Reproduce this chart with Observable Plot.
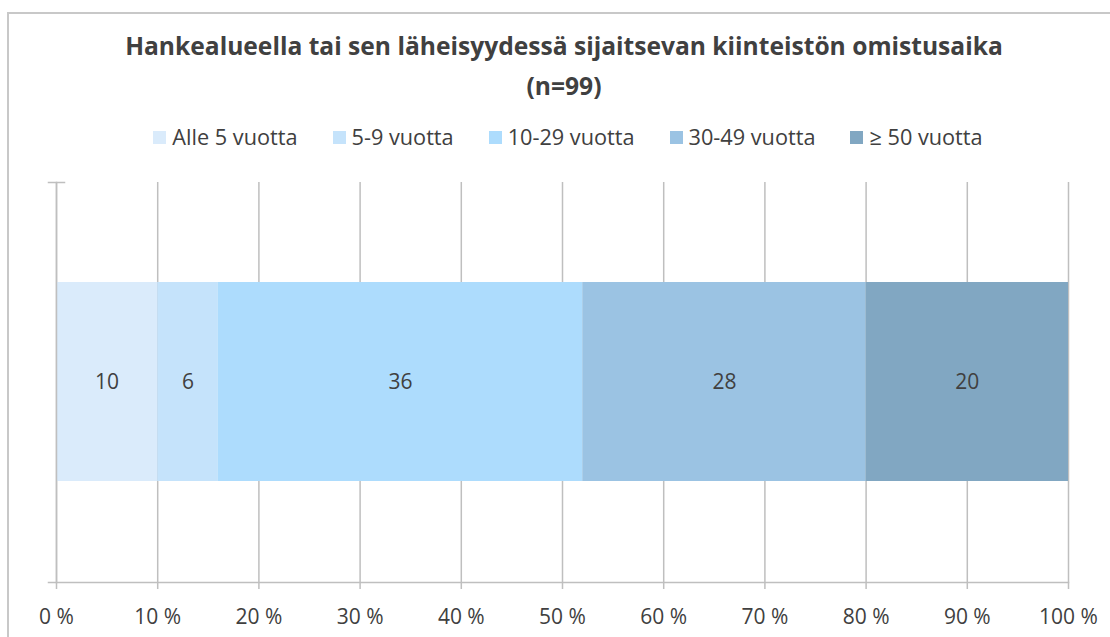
<!DOCTYPE html>
<html>
<head>
<meta charset="utf-8">
<script src="https://cdn.jsdelivr.net/npm/d3@7"></script>
<script src="https://cdn.jsdelivr.net/npm/@observablehq/plot@0.6"></script>
<style>
  html, body { margin: 0; padding: 0; background: #fff; }
  body { width: 1110px; height: 637px; position: relative; overflow: hidden; font-family: "Open Sans", sans-serif; color: #404040; }
  #border { position: absolute; left: 7px; top: 12px; right: -4px; bottom: -4px; border-top: 2px solid #c8c8c8; border-left: 2px solid #c8c8c8; }
  #title { position: absolute; top: 26px; left: 18px; width: 1092px; text-align: center; font-weight: 700; font-size: 24.6px; line-height: 40px; color: #404040; }
  #legend { position: absolute; top: 123px; left: 26px; width: 1084px; display: flex; justify-content: center; gap: 35px; font-size: 21.7px; line-height: 28px; }
  .item { display: flex; align-items: center; gap: 6px; }
  .sw { width: 13px; height: 13px; display: inline-block; }
  #chart { position: absolute; top: 170px; left: 0; }
</style>
</head>
<body>
<div id="border"></div>
<div id="title">Hankealueella tai sen läheisyydessä sijaitsevan kiinteistön omistusaika<br>(n=99)</div>
<div id="legend"></div>
<div id="chart"></div>
<script>
const categories = ["Alle 5 vuotta", "5-9 vuotta", "10-29 vuotta", "30-49 vuotta", "≥ 50 vuotta"];
const values = [10, 6, 36, 28, 20];
const colors = ["#DAEBFB", "#C5E3FB", "#ADDCFD", "#9BC3E3", "#81A7C2"];
const row = "Omistusaika";
const xTicks = [0, 10, 20, 30, 40, 50, 60, 70, 80, 90, 100];

const data = categories.map((c, i) => ({category: c, value: values[i], row}));

const legend = document.getElementById("legend");
categories.forEach((c, i) => {
  const it = document.createElement("div");
  it.className = "item";
  const sw = document.createElement("span");
  sw.className = "sw";
  sw.style.background = colors[i];
  const t = document.createElement("span");
  t.textContent = c;
  it.appendChild(sw); it.appendChild(t);
  legend.appendChild(it);
});

const gridColor = "#bfbfbf";
const chart = Plot.plot({
  width: 1110,
  height: 467,
  marginTop: 12,
  marginBottom: 55,
  marginLeft: 56,
  marginRight: 42,
  style: {fontFamily: "'Open Sans', sans-serif", fontSize: "20px", color: "#404040", background: "transparent", overflow: "visible"},
  x: {domain: [0, 100], axis: null},
  y: {domain: [row], padding: 1/3, axis: null},
  color: {domain: categories, range: colors},
  marks: [
    Plot.gridX(xTicks, {stroke: gridColor, strokeOpacity: 1, strokeWidth: 1.5}),
    Plot.barX(data, Plot.stackX({x: "value", y: "row", fill: "category"})),
    Plot.textX(data, Plot.stackX({x: "value", y: "row", text: "value", fill: "#404040", fontSize: 21})),
    Plot.frame({anchor: "left", stroke: gridColor, strokeWidth: 1.5}),
    Plot.frame({anchor: "bottom", stroke: gridColor, strokeWidth: 1.5, insetLeft: -8}),
    Plot.frame({anchor: "top", stroke: gridColor, strokeWidth: 1.5, insetLeft: -8, insetRight: 1004}),
    Plot.axisX(xTicks, {tickFormat: d => d + " %", tickSize: 7, tickPadding: 20, stroke: gridColor, strokeWidth: 1.5, fill: "#404040", fontSize: 21, label: null})
  ]
});
document.getElementById("chart").appendChild(chart);
</script>
</body>
</html>
